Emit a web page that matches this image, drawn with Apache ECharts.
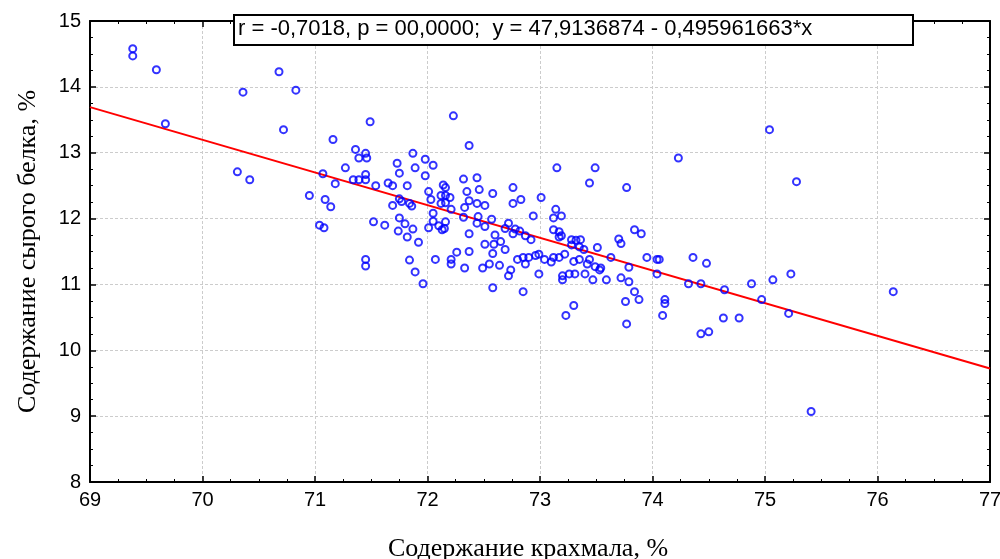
<!DOCTYPE html>
<html>
<head>
<meta charset="utf-8">
<script src="https://cdn.jsdelivr.net/npm/echarts@6/dist/echarts.min.js"></script>
<style>
  html, body { margin: 0; padding: 0; background: #ffffff; }
  #chart { width: 1000px; height: 559px; }
</style>
</head>
<body>
<div id="chart"></div>
<script>
// Starch content (%) of each sample
const starch = [
  69.38, 69.38, 69.59, 69.67, 70.36, 70.68, 70.83, 70.72, 70.31, 70.42,
  71.16, 70.95, 71.09, 71.14, 71.07, 71.18, 71.27, 71.36, 71.39, 71.45,
  71.46, 71.34, 71.39, 71.45, 71.45, 71.54, 71.49,
  71.04, 71.08, 71.45, 71.45, 71.52, 71.62, 71.65, 71.69, 71.73, 71.75, 71.69, 71.75, 71.74,
  72.23, 72.37, 71.87, 71.89, 71.98, 72.05, 71.98, 71.82, 71.75, 71.77,
  71.84, 71.86, 72.01, 72.03, 72.14, 72.16, 72.12, 72.16, 72.20, 72.12,
  72.16, 72.21, 72.05, 72.05, 71.80, 71.82, 71.87, 71.92, 72.01, 72.10,
  72.15, 72.16, 72.13, 71.84, 71.89, 71.96, 72.07, 72.21, 72.21, 72.26,
  72.33, 72.32, 72.44, 72.35, 72.46, 72.58, 72.37, 72.44, 72.51, 72.33,
  72.32, 72.45, 72.44, 72.51, 72.57, 72.60, 72.59, 72.65, 72.51, 72.37,
  72.37, 72.58, 72.64, 72.49, 72.55, 72.58, 72.69,
  72.76, 72.76, 72.83, 73.01, 72.94, 73.15, 73.49, 73.44, 73.14, 73.12,
  73.19, 73.12, 73.17, 73.19, 73.17, 72.72, 72.78, 72.82, 72.76, 72.87,
  72.92, 72.69, 72.80, 72.85, 72.87, 72.90, 72.96, 72.99, 73.04, 73.10,
  73.12, 73.17, 73.22, 72.74, 72.72, 72.99, 73.20, 73.20, 73.26, 73.31,
  72.85, 73.30, 73.23, 73.28, 73.36, 73.32, 73.28, 73.35, 73.39, 73.30,
  73.35, 73.44, 73.42, 73.51, 73.49, 73.53, 73.54, 73.40, 73.47, 73.59,
  74.23, 73.77, 73.84, 73.90, 73.70, 73.72, 73.63, 73.95, 74.04, 74.06,
  74.36, 74.48, 73.79, 74.04, 73.72, 73.79, 74.32, 74.43, 73.84, 73.88,
  73.76, 74.11, 74.11, 74.09, 73.77, 74.43, 74.50,
  75.28, 74.64, 74.88, 75.07, 75.23, 74.97, 75.21, 74.63, 74.77,
  75.04, 76.14, 75.41
];

// Crude protein content (%) of the same samples
const protein = [
  14.58, 14.47, 14.26, 13.44, 13.92, 14.23, 13.95, 13.35, 12.71, 12.59,
  13.20, 12.35, 12.29, 12.18, 12.68, 12.53, 12.77, 13.05, 12.92, 12.99,
  12.92, 12.59, 12.59, 12.67, 12.59, 12.50, 13.47,
  11.90, 11.86, 11.38, 11.28, 11.95, 11.90, 12.54, 12.50, 12.84, 12.69, 12.20, 12.01, 11.81,
  13.56, 13.11, 12.99, 12.77, 12.90, 12.81, 12.65, 12.50, 12.30, 12.26,
  12.23, 12.19, 12.41, 12.29, 12.51, 12.47, 12.35, 12.35, 12.32, 12.23,
  12.24, 12.14, 12.08, 11.96, 11.92, 11.72, 11.84, 11.64, 11.86, 11.89,
  11.85, 11.95, 11.83, 11.37, 11.19, 11.01, 11.38, 11.38, 11.31, 11.49,
  11.25, 12.60, 12.62, 12.41, 12.44, 12.38, 12.27, 12.23, 12.20, 12.17,
  12.02, 12.03, 11.93, 11.88, 11.99, 11.75, 11.61, 11.65, 11.61, 11.77,
  11.50, 11.47, 11.29, 11.25, 11.31, 10.95, 11.85,
  12.47, 12.23, 12.29, 12.32, 12.04, 12.77, 12.77, 12.54, 12.14, 12.01,
  12.04, 11.83, 11.80, 11.74, 11.72, 11.93, 11.84, 11.81, 11.77, 11.74,
  11.68, 11.53, 11.38, 11.41, 11.31, 11.41, 11.44, 11.46, 11.38, 11.34,
  11.41, 11.41, 11.46, 11.22, 11.13, 11.16, 11.13, 11.07, 11.16, 11.16,
  10.89, 10.68, 10.53, 11.68, 11.68, 11.67, 11.60, 11.57, 11.53, 11.35,
  11.38, 11.38, 11.31, 11.56, 11.27, 11.22, 11.25, 11.16, 11.07, 11.07,
  12.92, 12.47, 11.83, 11.77, 11.69, 11.62, 11.41, 11.41, 11.38, 11.38,
  11.41, 11.32, 11.26, 11.16, 11.10, 11.04, 11.01, 11.01, 10.89, 10.77,
  10.74, 10.77, 10.71, 10.53, 10.40, 10.25, 10.28,
  12.56, 10.92, 11.01, 11.07, 11.16, 10.77, 10.56, 10.49, 10.49,
  13.35, 10.89, 9.07
];

// Fitted linear regression: y = intercept + slope * x
const intercept = 47.9136874;
const slope = -0.495961663;
const fitRange = [69, 77];

// Axis tick labels
const xTicks = [69, 70, 71, 72, 73, 74, 75, 76, 77];
const yTicks = [8, 9, 10, 11, 12, 13, 14, 15];

const statsText = 'r = -0,7018, p = 00,0000;  y = 47,9136874 - 0,495961663*x';

const points = starch.map((x, i) => [x, protein[i]]);
const fitLine = fitRange.map(x => [x, intercept + slope * x]);

const sans = '"Liberation Sans", Arial, sans-serif';
const serif = '"Liberation Serif", "DejaVu Serif", serif';

const chart = echarts.init(document.getElementById('chart'), null, { renderer: 'canvas' });

const frameLine = { show: true, lineStyle: { color: '#000', width: 2 } };
const tickIn = { show: true, inside: true, length: 6, lineStyle: { color: '#000', width: 1.5 } };
const minorIn = { show: true, splitNumber: 4, length: 3, lineStyle: { color: '#000', width: 1 } };
const dashedGrid = { show: true, lineStyle: { color: '#cccccc', type: [3, 2], width: 1 } };

chart.setOption({
  animation: false,
  backgroundColor: '#ffffff',
  grid: { left: 90, right: 10, top: 21, bottom: 77, containLabel: false, outerBoundsMode: 'none' },
  xAxis: [
    {
      type: 'value', position: 'bottom',
      min: xTicks[0], max: xTicks[xTicks.length - 1], interval: 1,
      axisLine: frameLine, axisTick: tickIn, minorTick: minorIn,
      splitLine: dashedGrid, minorSplitLine: { show: false },
      axisLabel: { color: '#000', fontSize: 20, fontFamily: sans, margin: 8,
        formatter: v => xTicks.includes(v) ? String(v) : '' },
      name: 'Содержание крахмала, %', nameLocation: 'middle', nameGap: 54,
      nameTextStyle: { color: '#000', fontSize: 26, fontFamily: serif, padding: [0, 24, 0, 0] }
    },
    {
      type: 'value', position: 'top',
      min: xTicks[0], max: xTicks[xTicks.length - 1], interval: 1,
      axisLine: frameLine, axisTick: tickIn, minorTick: minorIn,
      splitLine: { show: false }, axisLabel: { show: false }
    }
  ],
  yAxis: [
    {
      type: 'value', position: 'left',
      min: yTicks[0], max: yTicks[yTicks.length - 1], interval: 1,
      axisLine: frameLine, axisTick: tickIn, minorTick: minorIn,
      splitLine: dashedGrid,
      axisLabel: { color: '#000', fontSize: 20, fontFamily: sans, margin: 9,
        formatter: v => yTicks.includes(v) ? String(v) : '' },
      name: 'Содержание сырого белка, %', nameLocation: 'middle', nameGap: 49,
      nameTextStyle: { color: '#000', fontSize: 26, fontFamily: serif }
    },
    {
      type: 'value', position: 'right',
      min: yTicks[0], max: yTicks[yTicks.length - 1], interval: 1,
      axisLine: frameLine, axisTick: tickIn, minorTick: minorIn,
      splitLine: { show: false }, axisLabel: { show: false }
    }
  ],
  series: [
    {
      type: 'line', data: fitLine, xAxisIndex: 0, yAxisIndex: 0,
      showSymbol: false, symbol: 'none', z: 2,
      lineStyle: { color: '#ff0000', width: 2 }
    },
    {
      type: 'scatter', data: points, xAxisIndex: 0, yAxisIndex: 0,
      symbol: 'circle', symbolSize: 7, z: 3,
      itemStyle: { color: 'rgba(0,0,0,0)', borderColor: '#0000ff', borderWidth: 2 }
    }
  ],
  graphic: [
    {
      type: 'rect', left: 233, top: 14, z: 100, zlevel: 1,
      shape: { width: 679, height: 30 },
      style: { fill: '#ffffff', stroke: '#000', lineWidth: 2 }
    },
    {
      type: 'text', left: 238, top: 18, z: 101, zlevel: 1,
      style: { text: statsText, fill: '#000', fontSize: 22, fontFamily: sans }
    }
  ]
});
</script>
</body>
</html>
